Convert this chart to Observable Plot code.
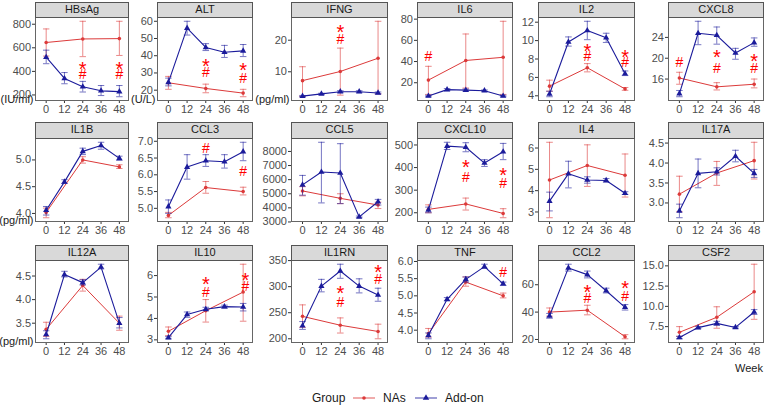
<!DOCTYPE html>
<html><head><meta charset="utf-8">
<script src="https://cdn.jsdelivr.net/npm/d3@7"></script>
<script src="https://cdn.jsdelivr.net/npm/@observablehq/plot@0.6"></script>
<style>
body{margin:0;background:#fff;font-family:"Liberation Sans",Arial,sans-serif;}
#chart{position:relative;width:766px;height:407px;overflow:hidden;background:#fff;}
.strip{position:absolute;box-sizing:border-box;background:#d9d9d9;border:1px solid #555;font-size:11px;color:#1a1a1a;text-align:center;line-height:13px;}
.panel{position:absolute;}
.week{position:absolute;font-size:11px;color:#1a1a1a;}
</style></head><body><div id="chart"></div>
<script>
// ---------------- data ----------------
const markers = ["HBsAg","ALT","IFNG","IL6","IL2","CXCL8",
                 "IL1B","CCL3","CCL5","CXCL10","IL4","IL17A",
                 "IL12A","IL10","IL1RN","TNF","CCL2","CSF2"];
const unitLabels = ["(IU/ml)","(U/L)","(pg/ml)","","","",
                    "(pg/ml)","","","","","",
                    "(pg/ml)","","","","",""];
const weeksNA = [0,24,48];
const weeksAdd = [0,12,24,36,48];
const weekTicks = [0,12,24,36,48];

const nasMean = [[645,675,678],[24.3,21,18.3],[7.2,10.1,14.3],[22.5,41,44],[5.05,7.05,4.75],[16.2,14.5,15.0],
  [4.02,5.0,4.87],[4.79,5.62,5.5],[5200,4675,4200],[215,239,197],[4.5,5.18,4.72],[3.22,3.75,4.06],
  [3.37,4.3,3.5],[3.4,4.36,5.23],[243,226,214],[3.9,5.4,5.0],[40,41.4,22],[6.8,8.65,11.8]];
const nasLow = [[530,525,535],[20.5,18.5,16.2],[2.2,2.6,3.0],[9,15,9],[4.5,6.6,4.6],[15.0,13.9,14.3],
  [3.92,4.94,4.84],[4.72,5.45,5.4],[4850,4300,3950],[200,212,178],[2.73,4.2,3.7],[2.78,3.44,3.6],
  [3.22,4.18,3.35],[3.2,3.83,3.87],[222,211,200],[3.8,5.28,4.94],[37,38,20.5],[6.3,7.3,8.4]];
const nasHigh = [[760,825,825],[28,23.5,20.5],[11.6,17.5,26],[35.5,66,78],[5.7,7.5,4.9],[17.3,15.3,16.0],
  [4.1,5.06,4.91],[4.88,5.8,5.63],[5500,5000,4400],[235,265,218],[6.27,6.15,5.72],[3.67,4.04,4.52],
  [3.52,4.43,3.65],[3.6,4.88,6.53],[265,240,228],[4.05,5.55,5.08],[43,45,23.5],[7.5,9.95,15.2]];

const addMean = [[520,340,270,235,228],[24.5,56,44.8,42,42.8],[2.3,3.0,3.7,3.7,3.3],[7.5,13.5,13,12.5,7.5],
  [4.2,9.85,11.1,10.3,6.4],[13.2,24.8,24.4,21,23],
  [4.06,4.59,5.16,5.27,5.03],[5.05,6.23,6.42,6.39,6.69],[5630,6540,6470,3360,4430],[212,495,490,420,470],
  [3.51,4.79,4.5,4.48,3.88],[2.8,3.74,3.78,4.17,3.74],
  [3.26,4.53,4.36,4.69,3.5],[3.1,4.18,4.43,4.55,4.53],[225,301,330,301,284],[3.85,4.9,5.48,5.85,5.35],
  [37.2,72.3,67.4,55.6,43.5],[6.15,7.38,7.9,7.4,9.3]];
const addLow = [[465,295,225,195,185],[22.5,52,43,39,39.5],[2.1,2.8,3.4,3.4,3.0],[6.8,12.5,12,11.8,6.8],
  [3.9,9.4,10.1,9.8,6.2],[12.6,22.6,22.7,19.8,22.3],
  [3.97,4.56,5.1,5.2,4.99],[4.85,5.87,6.25,6.2,6.42],[4900,4350,4300,3300,4200],[200,480,470,405,435],
  [3.05,4.13,4.35,4.4,3.82],[2.63,3.38,3.7,4.03,3.64],
  [3.17,4.48,4.31,4.65,3.4],[3.05,4.05,4.35,4.48,4.35],[218,290,316,288,272],[3.75,4.85,5.4,5.8,5.3],
  [35.5,70,65,54,41.5],[6.0,7.25,7.65,7.3,9.0]];
const addHigh = [[580,390,315,280,280],[27,60,47,46,46.5],[2.5,3.2,4.0,4.0,3.6],[8.2,14.5,14,13.2,8.2],
  [4.5,10.4,12.1,10.8,6.7],[13.8,27.1,26,21.9,23.9],
  [4.13,4.63,5.22,5.33,5.07],[5.25,6.6,6.6,6.6,6.97],[6300,8650,8550,3420,4600],[225,512,510,435,507],
  [3.93,5.38,4.65,4.57,3.95],[2.97,4.1,3.88,4.32,3.84],
  [3.34,4.6,4.42,4.75,3.62],[3.15,4.3,4.52,4.62,4.7],[233,314,343,315,297],[3.92,4.95,5.55,5.92,5.4],
  [39,75,70,57.5,45.5],[6.3,7.5,8.15,7.5,9.6]];

const yTicks = [[200,400,600,800],[20,30,40,50,60],[10,20],[20,40,60,80],[4,6,8,10,12],[16,20,24],
  [4.0,4.5,5.0],[5.0,5.5,6.0,6.5,7.0],[3000,4000,5000,6000,7000,8000],[200,300,400,500],[3,4,5,6],[3.0,3.5,4.0,4.5],
  [3.5,4.0,4.5],[3,4,5,6],[200,250,300,350],[4.0,4.5,5.0,5.5,6.0],[20,40,60],[7.5,10.0,12.5,15.0]];
const yTickDecimals = [0,0,0,0,0,0, 1,1,0,0,0,1, 1,0,0,1,0,1];

// significance marks: panel index, week, symbol, value
const sigPanel  = [0,0,0,0, 1,1,1,1, 2,2, 3, 4,4,4,4, 5,5,5,5,5, 7,7, 9,9,9,9, 13,13,13,13, 14,14,14,14, 15, 16,16,16,16];
const sigWeek   = [24,24,48,48, 24,24,48,48, 24,24, 0, 24,24,48,48, 0,24,24,48,48, 24,48, 24,24,48,48, 24,24,49.5,49.5, 24,24,48,48, 48, 24,24,48,48];
const sigSymbol = ["*","#","*","#", "*","#","*","#", "*","#", "#", "*","#","*","#", "#","*","#","*","#", "#","#", "*","#","*","#", "*","#","*","#", "*","#","*","#", "#", "*","#","*","#"];
const sigValue  = [460,375,460,375, 36.8,30,34.3,27, 24,20.3, 44.4, 9.4,8.3,8.7,7.6, 19.1,21.0,18.0,20.4,18.1, 6.78,6.11,
  420,357,387,330, 5.8,5.21,6.0,5.47, 296,270,337,314, 5.67, 58,49.7,60.5,51.4];

// ---------------- layout ----------------
const colLeft = [35,157,291,417,538,668];
const colWidth = [93,95,96,95,96,95];
const stripTop = [2,122,245];
const plotTop = [17,138,260];
const plotH = [83,83,82];
const RED = "#dc3a3a", BLUE = "#1b1b9b", SIG = "#ff0000";
const FONT = "'Liberation Sans', Arial, sans-serif";
const xDomain = [-7, 54];
const ML = 44, MB = 24;

const chart = document.getElementById("chart");

markers.forEach((name, i) => {
  const col = i % 6, row = Math.floor(i / 6);
  const w = colWidth[col], h = plotH[row];
  const nas = weeksNA.map((wk, j) => ({week: wk, mean: nasMean[i][j], lo: nasLow[i][j], hi: nasHigh[i][j]}));
  const add = weeksAdd.map((wk, j) => ({week: wk, mean: addMean[i][j], lo: addLow[i][j], hi: addHigh[i][j]}));
  const sig = sigPanel.map((p, k) => ({p, week: sigWeek[k], sym: sigSymbol[k], v: sigValue[k]})).filter(d => d.p === i);
  const vals = [...nas.flatMap(d => [d.lo, d.hi]), ...add.flatMap(d => [d.lo, d.hi]), ...sig.map(d => d.v)];
  const [mn, mx] = d3.extent(vals);
  const pad = (mx - mn) * 0.05;
  const fmt = d3.format(yTickDecimals[i] ? ".1f" : "d");
  const cap = 2.1;
  const errMarks = (data, color) => [
    Plot.ruleX(data, {x: "week", y1: "lo", y2: "hi", stroke: color, strokeOpacity: 0.6, strokeWidth: 1}),
    Plot.link(data, {x1: d => d.week - cap, x2: d => d.week + cap, y1: "hi", y2: "hi", stroke: color, strokeOpacity: 0.6}),
    Plot.link(data, {x1: d => d.week - cap, x2: d => d.week + cap, y1: "lo", y2: "lo", stroke: color, strokeOpacity: 0.6})
  ];
  const svg = Plot.plot({
    width: ML + w, height: h + MB,
    marginLeft: ML, marginRight: 0, marginTop: 0, marginBottom: MB,
    style: {background: "transparent", overflow: "visible", fontFamily: FONT, fontSize: "11px", color: "#4d4d4d"},
    x: {domain: xDomain, axis: null},
    y: {domain: [mn - pad, mx + pad], axis: null},
    marks: [
      Plot.axisX({ticks: weekTicks, tickSize: 3, tickPadding: 2, fontSize: 11, label: null, stroke: "#333", fill: "#4d4d4d"}),
      Plot.axisY({ticks: yTicks[i], tickFormat: fmt, tickSize: 3, tickPadding: 1.5, fontSize: 11, label: null, stroke: "#333", fill: "#4d4d4d"}),
      ...errMarks(nas, RED),
      Plot.line(nas, {x: "week", y: "mean", stroke: RED, strokeWidth: 1}),
      Plot.dot(nas, {x: "week", y: "mean", r: 1.8, fill: RED, symbol: "circle"}),
      ...errMarks(add, BLUE),
      Plot.line(add, {x: "week", y: "mean", stroke: BLUE, strokeWidth: 1.1}),
      Plot.dot(add, {x: "week", y: "mean", r: 2.3, fill: BLUE, symbol: "triangle"}),
      Plot.text(sig.filter(d => d.sym === "*"), {x: "week", y: "v", text: "sym", fill: SIG, fontSize: 20, dy: 5}),
      Plot.text(sig.filter(d => d.sym === "#"), {x: "week", y: "v", text: "sym", fill: SIG, fontSize: 14}),
      Plot.frame({stroke: "#666", strokeWidth: 1}),
      unitLabels[i] ? Plot.text([unitLabels[i]], {frameAnchor: "bottom-left", dx: -2, dy: 2, textAnchor: "end", fill: "#1a1a1a", fontSize: 11}) : null
    ]
  });
  const holder = document.createElement("div");
  holder.className = "panel";
  holder.style.left = (colLeft[col] - ML) + "px";
  holder.style.top = plotTop[row] + "px";
  holder.appendChild(svg);
  chart.appendChild(holder);

  const strip = document.createElement("div");
  strip.className = "strip";
  strip.style.left = colLeft[col] + "px";
  strip.style.top = stripTop[row] + "px";
  strip.style.width = (w + 1) + "px";
  strip.style.height = (plotTop[row] - stripTop[row] + 1) + "px";
  strip.textContent = name;
  chart.appendChild(strip);
});

// x axis title
const week = document.createElement("div");
week.className = "week";
week.style.left = "735px";
week.style.top = "362px";
week.textContent = "Week";
chart.appendChild(week);

// legend
const groups = ["NAs", "Add-on"];
const groupColors = [RED, BLUE];
const lg = d3.select(chart).append("svg")
  .attr("width", 766).attr("height", 30)
  .style("position", "absolute").style("left", "0px").style("top", "385px")
  .style("font-family", FONT).style("font-size", "12px");
lg.append("text").attr("x", 312).attr("y", 17).attr("fill", "#1a1a1a").text("Group");
const keyX = [353, 415];
groups.forEach((g, k) => {
  const x0 = keyX[k];
  lg.append("line").attr("x1", x0).attr("x2", x0 + 22).attr("y1", 13).attr("y2", 13)
    .attr("stroke", groupColors[k]).attr("stroke-opacity", 0.7).attr("stroke-width", 1.2);
  if (k === 0) lg.append("circle").attr("cx", x0 + 11).attr("cy", 13).attr("r", 1.8).attr("fill", groupColors[k]);
  else lg.append("path").attr("d", d3.symbol(d3.symbolTriangle, 18)()).attr("transform", `translate(${x0 + 11},13)`).attr("fill", groupColors[k]);
  lg.append("text").attr("x", x0 + 30).attr("y", 17).attr("fill", "#1a1a1a").text(g);
});
</script></body></html>
